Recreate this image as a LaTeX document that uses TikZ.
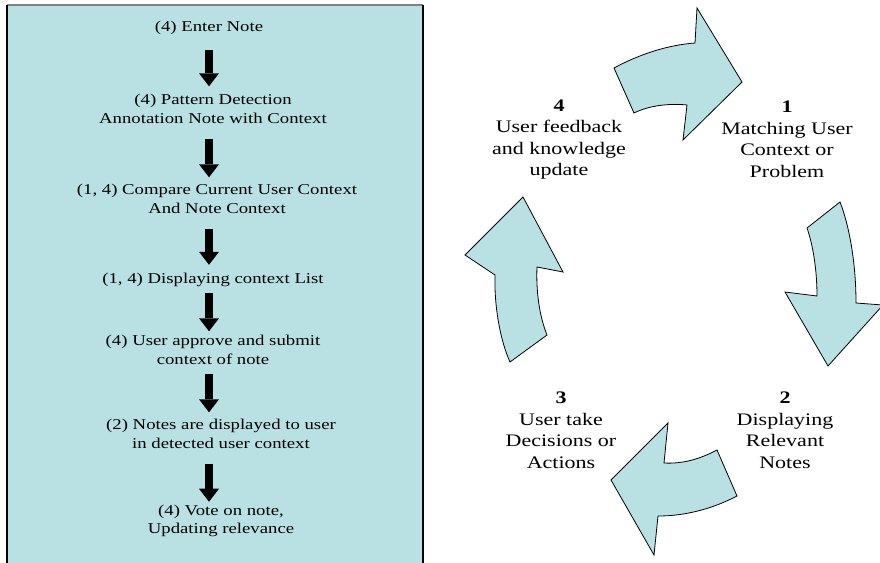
\documentclass[tikz,border=0pt]{standalone}
\usepackage{fontspec}
\setmainfont[FakeStretch=1.25]{Liberation Serif}
\usetikzlibrary{arrows.meta}
\definecolor{boxfill}{RGB}{185,224,227}
\begin{document}
\begin{tikzpicture}[x=1pt,y=-1pt,
  lefttext/.style={align=center, font=\fontsize{15}{18.3}\selectfont, inner sep=0pt},
  righttext/.style={align=center, font=\fontsize{17.6}{21.5}\selectfont, inner sep=0pt},
  downarr/.style={line width=8pt, -{Triangle[width=20pt,length=13pt,line width=0pt]}},
  cyc/.style={fill=boxfill, draw=black, line width=0.8pt, line join=miter}]
\useasboundingbox (0,0) rectangle (880,562);
% left panel
\fill[boxfill] (7,5) rectangle (423,570);
\draw[gray, line width=1.5pt] (7,5) -- (423,5);
\draw[black, line width=1.6pt] (7,5) -- (7,570);
\draw[black, line width=1.4pt] (423,5) -- (423,570);
\coordinate (axis) at (209,0);
\node[lefttext] (n1) at (209,28) {(4) Enter Note};
\node[lefttext] (n2) at (213,109) {(4) Pattern Detection\\Annotation Note with Context};
\node[lefttext] (n3) at (217,199) {(1, 4) Compare Current User Context\\And Note Context};
\node[lefttext] (n4) at (213,280) {(1, 4) Displaying context List};
\node[lefttext] (n5) at (213,350) {(4) User approve and submit\\context of note};
\node[lefttext] (n6) at (221,434) {(2) Notes are displayed to user\\in detected user context};
\node[lefttext] (n7) at (221,521) {(4) Vote on note,\\Updating relevance};
\draw[downarr, shorten <=15.2pt, shorten >=8.1pt] (axis |- n1.south) -- (axis |- n2.north);
\draw[downarr, shorten <=15.1pt, shorten >=7.1pt] (axis |- n2.south) -- (axis |- n3.north);
\draw[downarr, shorten <=15.1pt, shorten >=8.2pt] (axis |- n3.south) -- (axis |- n4.north);
\draw[downarr, shorten <=6.2pt, shorten >=4.1pt] (axis |- n4.south) -- (axis |- n5.north);
\draw[downarr, shorten <=9.1pt, shorten >=7.1pt] (axis |- n5.south) -- (axis |- n6.north);
\draw[downarr, shorten <=15.1pt, shorten >=3.1pt] (axis |- n6.south) -- (axis |- n7.north);
% right cycle
\filldraw[cyc] (614,68) .. controls (640,54) and (668,45) .. (695,43) -- (697,8) -- (742,82) -- (683,140) -- (687,105) .. controls (668,103) and (648,106) .. (634,113) -- cycle;
\filldraw[cyc] (840,202) .. controls (849,225) and (856,262) .. (856,303) -- (883,305) -- (828,366) -- (785,292) -- (817,296) .. controls (817,270) and (813,245) .. (807,228) -- cycle;
\filldraw[cyc] (717,450) -- (737,496) .. controls (712,509) and (685,516) .. (658,516) -- (654,555) -- (611,480) -- (668,423) -- (664,463) .. controls (683,464) and (700,459) .. (717,450) -- cycle;
\filldraw[cyc] (510,362) -- (547,335) .. controls (539,315) and (536,290) .. (537,267) -- (563,272) -- (523,197) -- (465,255) -- (495,275) .. controls (494,305) and (500,340) .. (510,362) -- cycle;
\node[righttext] (s4) at (559,139.5) {\textbf{4}\\User feedback\\and knowledge\\update};
\node[righttext] (s1) at (787,139.5) {\textbf{1}\\Matching User\\Context or\\Problem};
\node[righttext] (s3) at (561,430.5) {\textbf{3}\\User take\\Decisions or\\Actions};
\node[righttext] (s2) at (785,430.5) {\textbf{2}\\Displaying\\Relevant\\Notes};
\end{tikzpicture}
\end{document}
